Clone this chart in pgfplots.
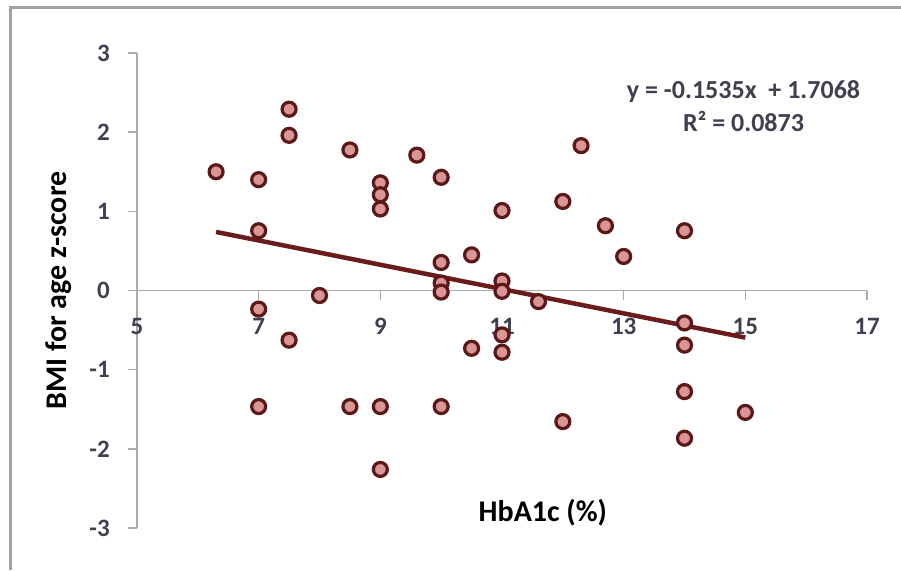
\documentclass[border=0pt]{standalone}
\usepackage{pgfplots}
\pgfplotsset{compat=1.18}
\usepackage{fontspec}
\setmainfont{Carlito}
\definecolor{mk}{HTML}{D99694}
\definecolor{mkedge}{HTML}{5A1818}
\definecolor{trend}{HTML}{6A1C1C}
\definecolor{axgray}{HTML}{ABABAB}
\definecolor{tickc}{HTML}{404050}
\definecolor{framec}{HTML}{A0A0A0}
\begin{document}
\begin{tikzpicture}[x=1pt,y=1pt]
\useasboundingbox (0,0) rectangle (901,570);
\draw[framec, line width=3pt] (10,0) -- (10,562) -- (901,562);
\begin{axis}[
  at={(137pt,42pt)}, anchor=south west,
  scale only axis, width=730pt, height=475pt,
  xmin=5, xmax=17, ymin=-3, ymax=3,
  axis x line=middle, axis y line=left,
  axis line style={-, draw=axgray, line width=1.5pt},
  hide obscured x ticks=false, hide obscured y ticks=false,
  xtick={5,7,9,11,13,15,17}, xticklabels={5,7,9,11,13,15,17},
  ytick={-3,-2,-1,0,1,2,3}, yticklabels={-3,-2,-1,0,1,2,3},
  tick align=outside, major tick length=9pt,
  tick style={draw=axgray, line width=1.5pt},
  tick label style={font=\fontsize{25}{29}\selectfont\bfseries, text=tickc},
  xticklabel style={anchor=center, inner sep=0pt, yshift=-27pt},
  yticklabel style={anchor=east, inner sep=0pt, xshift=-18pt},
  xlabel={HbA1c (\%)}, ylabel={BMI for age z-score},
  every axis x label/.style={at={(axis description cs:0.556,0.032)}, anchor=center, font=\fontsize{30}{34}\selectfont\bfseries},
  every axis y label/.style={at={(axis description cs:-0.108,0.5)}, rotate=90, anchor=center, font=\fontsize{30}{34}\selectfont\bfseries},
  clip=false,
]
\addplot[only marks, mark=*, mark size=7pt, mark options={fill=mk, draw=mkedge, line width=3.2pt}] coordinates {
(6.3,1.50) (7,1.40) (7,0.755) (7,-0.235) (7,-1.466)
(7.5,2.29) (7.5,1.96) (7.5,-0.627) (8,-0.063)
(8.5,1.775) (8.5,-1.466)
(9,1.36) (9,1.21) (9,1.03) (9,-1.466) (9,-2.26)
(9.6,1.71)
(10,1.43) (10,0.354) (10,0.094) (10,-0.02) (10,-1.466)
(10.5,0.45) (10.5,-0.73)
(11,1.01) (11,0.12) (11,-0.01) (11,-0.56) (11,-0.78)
(11.6,-0.14)
(12,1.125) (12,-1.656) (12.3,1.83) (12.7,0.818) (13,0.43)
(14,0.755) (14,-0.41) (14,-0.69) (14,-1.277) (14,-1.866)
(15,-1.54)
};
\addplot[trend, line width=4.5pt, no marks] coordinates {(6.3,0.7398) (15,-0.5957)};
\node[align=center, font=\fontsize{26}{33}\selectfont\bfseries, text=tickc] at (axis cs:14.97,2.335) {y = -0.1535x\ \ + 1.7068\\R² = 0.0873};
\end{axis}
\end{tikzpicture}
\end{document}
